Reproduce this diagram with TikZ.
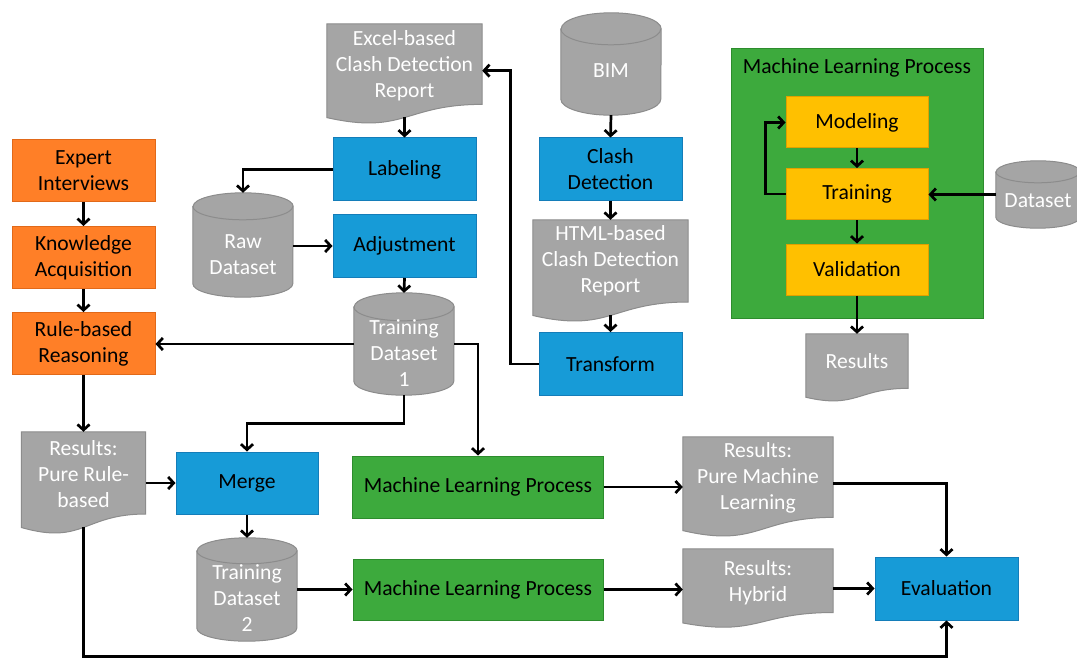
\documentclass[tikz,border=0pt]{standalone}
\usepackage{fontspec}
\setmainfont{Carlito}
\usetikzlibrary{arrows.meta,calc}
\definecolor{orangeF}{RGB}{255,127,39}
\definecolor{orangeD}{RGB}{225,105,25}
\definecolor{blueF}{RGB}{23,155,215}
\definecolor{blueD}{RGB}{20,125,185}
\definecolor{greenF}{RGB}{61,170,61}
\definecolor{greenD}{RGB}{45,140,45}
\definecolor{yellowF}{RGB}{255,192,0}
\definecolor{yellowD}{RGB}{225,160,0}
\definecolor{grayF}{RGB}{165,165,165}
\definecolor{grayD}{RGB}{140,140,140}
\newcommand\cylshape[3]{%
  \path[fill=grayF,draw=grayD,line width=1pt] ([yshift=-#3pt]#1.north west) -- ([yshift=#3pt]#1.south west)
    arc[start angle=180,end angle=360,x radius=#2pt,y radius=#3pt] -- ([yshift=-#3pt]#1.north east)
    arc[start angle=0,end angle=180,x radius=#2pt,y radius=#3pt] -- cycle;
  \draw[grayD,line width=1pt] ([yshift=-#3pt]#1.north west) arc[start angle=180,end angle=360,x radius=#2pt,y radius=#3pt];
}
\newcommand\docshape[1]{%
  \path[fill=grayF,draw=grayD,line width=1pt] let \p1=(#1.north west), \p2=(#1.south east) in
    (\p1) -- (\x2,\y1) -- (\x2,{\y1+0.86*(\y2-\y1)})
    .. controls ({0.5*(\x1+\x2)},{\y1+0.86*(\y2-\y1)}) and ({0.5*(\x1+\x2)},{\y1+1.1876*(\y2-\y1)}) ..
    (\x1,{\y1+1.001*(\y2-\y1)}) -- cycle;
}
\begin{document}
\begin{tikzpicture}[x=1pt,y=-1pt,
  base/.style={inner sep=0pt, align=center, font=\fontsize{21.6}{26}\selectfont},
  obox/.style={base, rectangle, fill=orangeF, draw=orangeD, line width=1pt, minimum width=143pt, minimum height=62pt},
  bbox/.style={base, rectangle, fill=blueF, draw=blueD, line width=1pt, minimum width=143pt, minimum height=63pt},
  gbox/.style={base, rectangle, fill=greenF, draw=greenD, line width=1pt, minimum height=62pt},
  ybox/.style={base, rectangle, fill=yellowF, draw=yellowD, line width=1pt, minimum width=142pt, minimum height=51pt},
  ghost/.style={rectangle, inner sep=0pt, draw=none},
  wtext/.style={base, text=white},
  arr/.style={line width=2.7pt, -{Straight Barb[length=5.5pt,width=12pt]}}
]
\useasboundingbox (0,0) rectangle (1077,658);
\fill[white] (0,0) rectangle (1077,658);

% left orange column
\node[obox] (expert) at (83.5,171) {Expert\\Interviews};
\node[obox] (know) at (83.5,257.5) {Knowledge\\Acquisition};
\node[obox] (rule) at (83.5,343.5) {Rule-based\\Reasoning};

% excel report
\node[ghost, minimum width=155pt, minimum height=93.3pt] (excel) at (404.5,70.65) {};
\docshape{excel}
\node[wtext] (excelT) at ([yshift=5pt]excel.center) {Excel-based\\Clash Detection\\Report};

\node[bbox] (labeling) at (404.5,169.5) {Labeling};
\node[bbox] (adjust) at (404.5,246) {Adjustment};

\node[ghost, minimum width=100pt, minimum height=104pt] (raw) at (243,245) {};
\cylshape{raw}{50}{13.5}
\node[wtext] (rawT) at ([yshift=-10pt]raw.center) {Raw\\Dataset};

\node[ghost, minimum width=100pt, minimum height=102pt] (td1) at (404,344) {};
\cylshape{td1}{50}{14}
\node[wtext] (td1T) at ([yshift=-9pt]td1.center) {Training\\Dataset\\1};

% BIM column
\node[ghost, minimum width=100pt, minimum height=102pt] (bim) at (611,64) {};
\cylshape{bim}{50}{16}
\node[wtext] (bimT) at ([yshift=-7pt]bim.center) {BIM};

\node[bbox] (clash) at (610.5,169.5) {Clash\\Detection};

\node[ghost, minimum width=155pt, minimum height=95.2pt] (html) at (610.5,267.6) {};
\docshape{html}
\node[wtext] (htmlT) at ([yshift=7pt]html.center) {HTML-based\\Clash Detection\\Report};

\node[bbox] (transform) at (610.5,364) {Transform};

% ML process panel
\node[rectangle, fill=greenF, draw=greenD, line width=1pt, minimum width=252pt, minimum height=269pt, inner sep=0pt] (panel) at (857,183.5) {};
\node[base] (panelT) at (857,68) {Machine Learning Process};
\node[ybox] (modeling) at (857,122.5) {Modeling};
\node[ybox] (training) at (857,194) {Training};
\node[ybox] (validation) at (857,269.5) {Validation};

\node[ghost, minimum width=84pt, minimum height=67pt] (dataset) at (1038,194.5) {};
\cylshape{dataset}{42}{11}
\node[wtext] (datasetT) at ([yshift=-6pt]dataset.center) {Dataset};

\node[ghost, minimum width=102pt, minimum height=63pt] (resML) at (857,365.5) {};
\docshape{resML}
\node[wtext] (resMLT) at ([yshift=4pt]resML.center) {Results};

% lower part
\node[ghost, minimum width=124pt, minimum height=95.2pt] (resRule) at (83.5,479.6) {};
\docshape{resRule}
\node[wtext] (resRuleT) at ([yshift=6pt]resRule.center) {Results:\\Pure Rule-\\based};

\node[bbox, minimum width=142pt, minimum height=62pt] (merge) at (247,483) {Merge};
\node[gbox, minimum width=251pt] (ml1) at (478,487) {Machine Learning Process};
\node[gbox, minimum width=250pt, minimum height=61pt] (ml2) at (478,589.5) {Machine Learning Process};

\node[ghost, minimum width=100pt, minimum height=103pt] (td2) at (247,589.5) {};
\cylshape{td2}{50}{13}
\node[wtext] (td2T) at ([yshift=-9pt]td2.center) {Training\\Dataset\\2};

\node[ghost, minimum width=150pt, minimum height=93.3pt] (resPML) at (758,483.65) {};
\docshape{resPML}
\node[wtext] (resPMLT) at ([yshift=5.5pt]resPML.center) {Results:\\Pure Machine\\Learning};

\node[ghost, minimum width=150pt, minimum height=73.7pt] (resHyb) at (758,585.85) {};
\docshape{resHyb}
\node[wtext] (resHybT) at ([yshift=3.5pt]resHyb.center) {Results:\\Hybrid};

\node[bbox] (eval) at (946.5,588.5) {Evaluation};

% connectors
\draw[arr] (expert.south) -- (know.north);
\draw[arr] (know.south) -- (rule.north);
\draw[arr] (excel.south) -- (labeling.north);
\draw[arr] (labeling.west) -| (raw.north);
\draw[arr] (raw.east |- adjust.west) -- (adjust.west);
\draw[arr] (adjust.south) -- (td1.north);
\draw[arr] (bim.south) -- (clash.north);
\draw[arr] (clash.south) -- (html.north);
\draw[arr] (html.south) -- (transform.north);
\draw[arr] (transform.west) -- ++(-28,0) |- (excel.east);
\draw[arr] (td1.west) -- (td1.west -| rule.east);
\draw[arr] (td1.east) -| (ml1.north);
\draw[arr] (td1.south) -- ++(0,28) -| (merge.north);
\draw[arr] (rule.south) -- (rule.south |- resRule.north);
\draw[arr] (resRule.east |- merge.west) -- (merge.west);
\draw[arr] (resRule.south) -- ++(0,129) -| (eval.south);
\draw[arr] (merge.south) -- (td2.north);
\draw[arr] (td2.east) -- (ml2.west);
\draw[arr] (ml1.east) -- (resPML.west |- ml1.east);
\draw[arr] (ml2.east) -- (resHyb.west |- ml2.east);
\draw[arr] (resHyb.east |- eval.west) -- (eval.west);
\draw[arr] (resPML.east) -| (eval.north);
\draw[arr] (modeling.south) -- (training.north);
\draw[arr] (training.south) -- (validation.north);
\draw[arr] (training.west) -- ++(-20,0) |- (modeling.west);
\draw[arr] (dataset.west) -- (dataset.west -| training.east);
\draw[arr] (validation.south) -- (resML.north);
\end{tikzpicture}
\end{document}
